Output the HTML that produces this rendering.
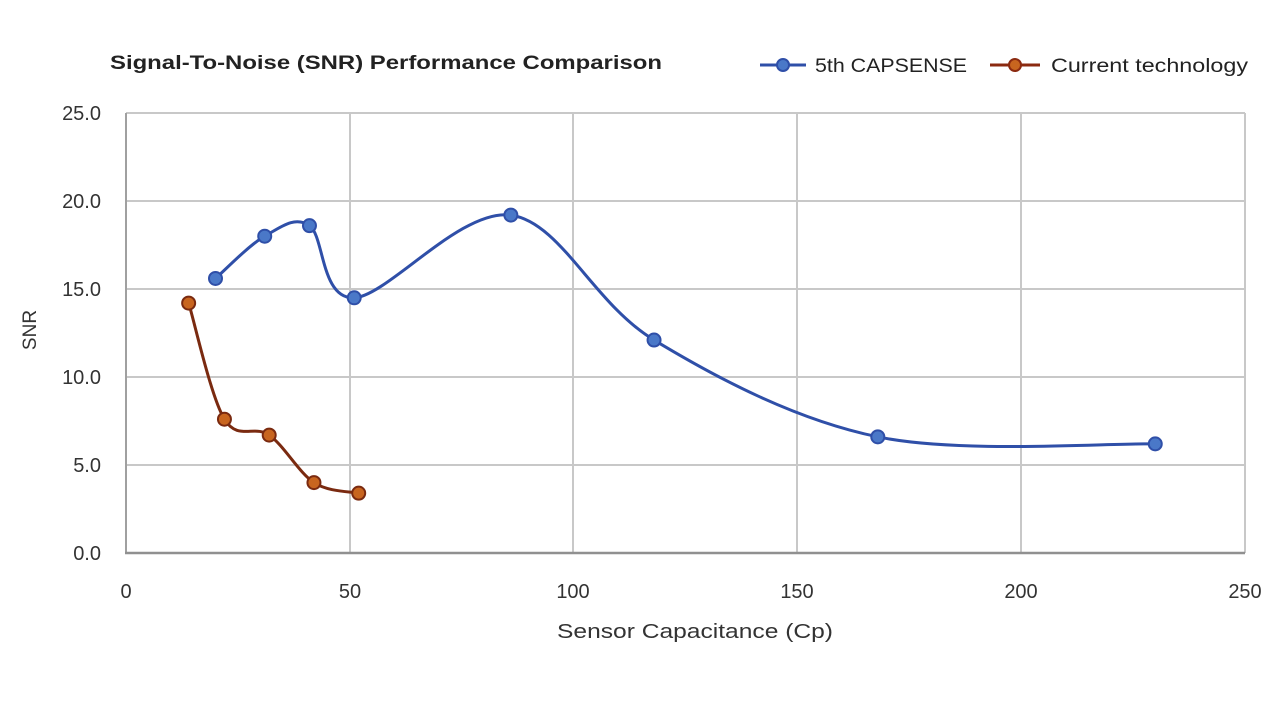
<!DOCTYPE html>
<html><head><style>
body{margin:0;background:#fff;}
svg{display:block;font-family:"Liberation Sans",sans-serif;}
</style></head><body>
<svg id="s" width="1280" height="721" viewBox="0 0 1280 721">
<rect width="1280" height="721" fill="#fff"/>
<g stroke="#c8c8c8" stroke-width="2">
<line x1="126" y1="113" x2="1245" y2="113"/>
<line x1="126" y1="201" x2="1245" y2="201"/>
<line x1="126" y1="289" x2="1245" y2="289"/>
<line x1="126" y1="377" x2="1245" y2="377"/>
<line x1="126" y1="465" x2="1245" y2="465"/>
<line x1="350" y1="113" x2="350" y2="553"/>
<line x1="573" y1="113" x2="573" y2="553"/>
<line x1="797" y1="113" x2="797" y2="553"/>
<line x1="1021" y1="113" x2="1021" y2="553"/>
<line x1="1245" y1="113" x2="1245" y2="553"/>
</g>
<line x1="126" y1="113" x2="126" y2="554" stroke="#a0a0a0" stroke-width="2"/>
<line x1="125" y1="553" x2="1245" y2="553" stroke="#909090" stroke-width="2.5"/>
<g font-size="20" fill="#333" text-anchor="end">
<text x="101" y="120">25.0</text><text x="101" y="208">20.0</text><text x="101" y="296">15.0</text>
<text x="101" y="384">10.0</text><text x="101" y="472">5.0</text><text x="101" y="560">0.0</text>
</g>
<g font-size="20" fill="#333" text-anchor="middle">
<text x="126" y="598">0</text><text x="350" y="598">50</text><text x="573" y="598">100</text>
<text x="797" y="598">150</text><text x="1021" y="598">200</text><text x="1245" y="598">250</text>
</g>
<text x="557" y="638" font-size="20" fill="#333" textLength="276" lengthAdjust="spacingAndGlyphs">Sensor Capacitance (Cp)</text>
<text transform="translate(36,330) rotate(-90)" font-size="19" fill="#333" text-anchor="middle">SNR</text>
<text x="110" y="69" font-size="19" font-weight="bold" fill="#222" textLength="552" lengthAdjust="spacingAndGlyphs">Signal-To-Noise (SNR) Performance Comparison</text>
<line x1="760" y1="65" x2="806" y2="65" stroke="#2f4fa8" stroke-width="3"/>
<circle cx="783" cy="65" r="6" fill="#4a78c8" stroke="#2f4fa8" stroke-width="2"/>
<text x="815" y="72" font-size="19" fill="#222" textLength="152" lengthAdjust="spacingAndGlyphs">5th CAPSENSE</text>
<line x1="990" y1="65" x2="1040" y2="65" stroke="#8b2a10" stroke-width="3"/>
<circle cx="1015" cy="65" r="6" fill="#c8651f" stroke="#8b2a10" stroke-width="2"/>
<text x="1051" y="72" font-size="19" fill="#222" textLength="197" lengthAdjust="spacingAndGlyphs">Current technology</text>
<g id="g"></g>
</svg>
<script>
function X(v){return 126+v*4.475}function Y(v){return 553-v*17.6}
function path(pts){var p=pts.map(a=>[X(a[0]),Y(a[1])]);var d="M"+p[0][0]+","+p[0][1];
for(var i=0;i<p.length-1;i++){var p0=p[i-1]||p[i],p1=p[i],p2=p[i+1],p3=p[i+2]||p2;
var c1=[p1[0]+(p2[0]-p0[0])/6,p1[1]+(p2[1]-p0[1])/6],c2=[p2[0]-(p3[0]-p1[0])/6,p2[1]-(p3[1]-p1[1])/6];
d+=" C"+c1+" "+c2+" "+p2;}return [d,p];}
var g=document.getElementById("g"),h="";
function ser(pts,lc,fc){var r=path(pts);h+='<path d="'+r[0]+'" fill="none" stroke="'+lc+'" stroke-width="3"/>';
r[1].forEach(q=>{h+='<circle cx="'+q[0]+'" cy="'+q[1]+'" r="6.5" fill="'+fc+'" stroke="'+lc+'" stroke-width="2"/>'});}
ser([[20,15.6],[31,18],[41,18.6],[51,14.5],[86,19.2],[118,12.1],[168,6.6],[230,6.2]],"#2f4fa8","#4a78c8");
ser([[14,14.2],[22,7.6],[32,6.7],[42,4.0],[52,3.4]],"#7a2a10","#c8651f");
g.innerHTML=h;
</script>
</body></html>
